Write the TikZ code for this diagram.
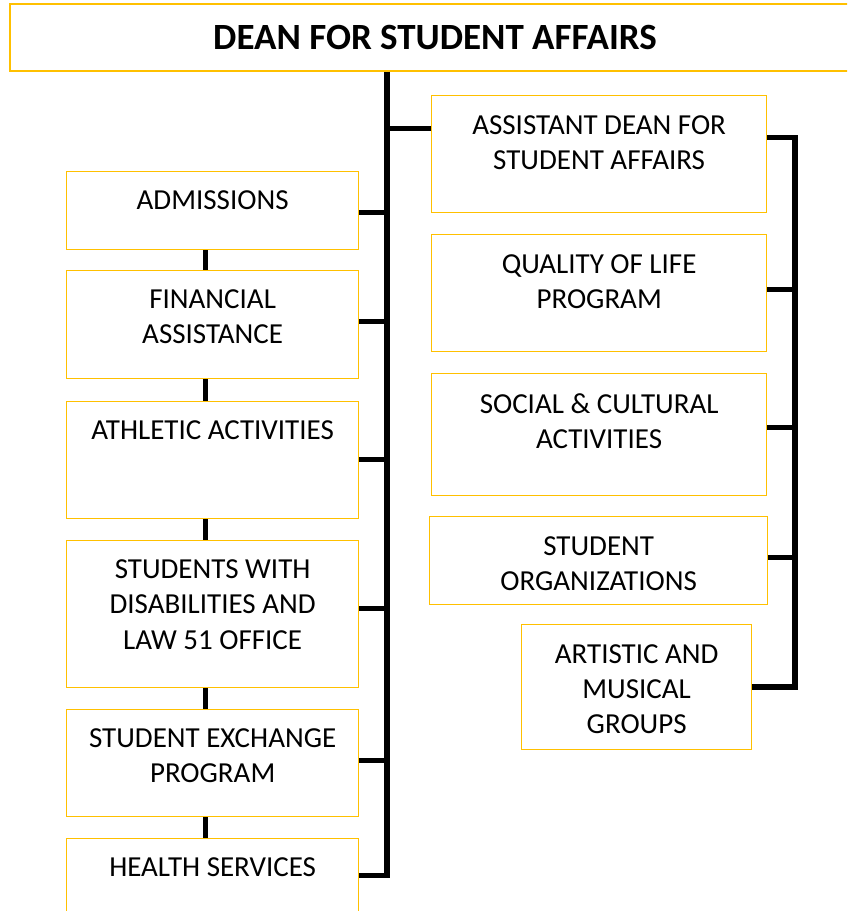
\documentclass[tikz,border=0pt]{standalone}
\usepackage{fontspec}
\setmainfont{Carlito}
\usetikzlibrary{positioning}
\definecolor{boxgold}{HTML}{FFC000}

\begin{document}
\begin{tikzpicture}[x=1pt,y=1pt,
  orgbox/.style={draw=boxgold, line width=1.3pt, inner sep=0pt, anchor=north west},
  orgtext/.style={align=center, inner sep=0pt, font=\fontsize{29}{35.4}\selectfont},
  link/.style={line width=5.6pt, black}]

  \clip (0,0) rectangle (847,-911);

  % Dean
  \node[orgbox, anchor=center, minimum width=850pt, minimum height=67pt,
        font=\bfseries\fontsize{37}{44}\selectfont] (dean) at (435,-37.5) {DEAN FOR STUDENT AFFAIRS};

  % Left column: name/top/height/text
  \foreach \boxname/\ytop/\hgt/\boxtext in {
      adm/171/78/ADMISSIONS,
      fin/270/108/{FINANCIAL\\ASSISTANCE},
      ath/401/117/ATHLETIC ACTIVITIES,
      dis/540/147/{STUDENTS WITH\\DISABILITIES AND\\LAW 51 OFFICE},
      exc/709/107/{STUDENT EXCHANGE\\PROGRAM},
      hlt/838/74/HEALTH SERVICES}
  {
    \node[orgbox, minimum width=292pt, minimum height=\hgt pt] (\boxname) at (66,-\ytop) {};
    \node[orgtext, below=19.5pt of \boxname.north] (\boxname-t) {\boxtext};
  }

  % Right column: name/left/top/width/height/text
  \foreach \boxname/\xl/\ytop/\wid/\hgt/\boxtext in {
      asst/431/95/335/117/{ASSISTANT DEAN FOR\\STUDENT AFFAIRS},
      qol/431/234/335/117/{QUALITY OF LIFE\\PROGRAM},
      soc/431/373/335/122/{SOCIAL \& CULTURAL\\ACTIVITIES},
      org/429/516/338/88/{STUDENT\\ORGANIZATIONS},
      art/521/624/230/125/{ARTISTIC AND\\MUSICAL\\GROUPS}}
  {
    \node[orgbox, minimum width=\wid pt, minimum height=\hgt pt] (\boxname) at (\xl,-\ytop) {};
    \node[orgtext, below=20pt of \boxname.north] (\boxname-t) {\boxtext};
  }

  % Trunk and buses
  \coordinate (trunk) at (387,0);
  \coordinate (rbus) at (795,0);
  \draw[link] (dean.south -| trunk) -- (trunk |- hlt.east) -- (hlt.east);
  \foreach \boxname/\dy in {adm/-2, fin/3, ath/0.5, dis/5.5, exc/2.5}
    \draw[link] ([yshift=\dy pt]\boxname.east) -- ([yshift=\dy pt]\boxname.east -| trunk);

  % Links between left boxes
  \foreach \a/\b in {adm/fin, fin/ath, ath/dis, dis/exc, exc/hlt}
    \draw[link] ([xshift=-7pt]\a.south) -- ([xshift=-7pt]\b.north);

  % Right side
  \draw[link] ([yshift=25.5pt]asst.west) -- ([yshift=25.5pt]asst.west -| trunk);
  \draw[link] ([yshift=16.5pt]asst.east) -| (rbus |- art.east) -- (art.east);
  \foreach \boxname/\dy in {qol/3.5, soc/7, org/3}
    \draw[link] ([yshift=\dy pt]\boxname.east) -- ([yshift=\dy pt]\boxname.east -| rbus);

\end{tikzpicture}
\end{document}
